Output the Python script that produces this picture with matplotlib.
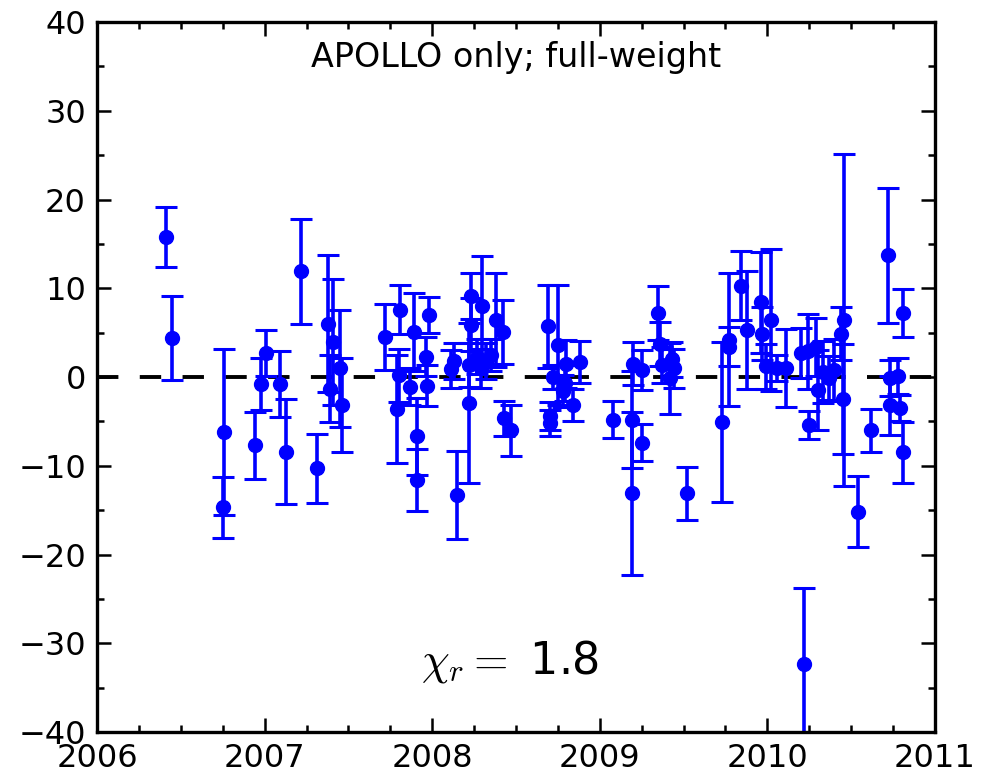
import matplotlib
matplotlib.use("Agg")
from matplotlib import pyplot as plt
from matplotlib.ticker import MultipleLocator

# epoch (decimal year), residual, 1-sigma error
epoch = [
    2006.41, 2006.45, 2006.75, 2006.76, 2006.94, 2006.98, 2007.01, 2007.09, 2007.13, 2007.22,
    2007.31, 2007.38, 2007.39, 2007.41, 2007.45, 2007.46, 2007.72, 2007.81, 2007.79, 2007.80,
    2007.89, 2007.87, 2007.91, 2007.91, 2007.98, 2007.96, 2007.97, 2008.11, 2008.13, 2008.15,
    2008.22, 2008.23, 2008.23, 2008.22, 2008.30, 2008.27, 2008.29, 2008.32, 2008.35, 2008.38,
    2008.42, 2008.43, 2008.47, 2008.69, 2008.75, 2008.72, 2008.70, 2008.70, 2008.80, 2008.79,
    2008.78, 2008.84, 2008.88, 2009.08, 2009.19, 2009.19, 2009.20, 2009.25, 2009.25, 2009.35,
    2009.36, 2009.37, 2009.42, 2009.43, 2009.44, 2009.52, 2009.73, 2009.77, 2009.77, 2009.84,
    2009.88, 2009.96, 2009.97, 2010.02, 2009.99, 2010.06, 2010.11, 2010.20, 2010.24, 2010.25,
    2010.22, 2010.29, 2010.30, 2010.33, 2010.37, 2010.40, 2010.44, 2010.46, 2010.45, 2010.54,
    2010.62, 2010.72, 2010.73, 2010.73, 2010.78, 2010.79, 2010.81, 2010.81,
]
resid = [
    15.8, 4.4, -14.7, -6.2, -7.7, -0.8, 2.7, -0.8, -8.4, 11.9,
    -10.3, 6.0, -1.3, 4.0, 1.0, -3.2, 4.5, 7.6, -3.6, 0.2,
    5.1, -1.1, -6.7, -11.6, 7.0, 2.3, -1.0, 0.9, 1.8, -13.3,
    -2.9, 9.1, 5.9, 1.35, 8.0, 2.3, 1.0, 1.8, 2.5, 6.4,
    5.1, -4.65, -6.0, 5.7, 3.6, 0.0, -4.4, -5.2, 1.5, -0.7,
    -1.6, -3.2, 1.7, -4.8, -13.1, -4.8, 1.5, 0.8, -7.4, 7.2,
    3.7, 1.35, -0.15, 2.0, 1.0, -13.1, -5.1, 4.2, 3.4, 10.3,
    5.3, 8.4, 4.9, 6.4, 1.2, 1.0, 1.0, 2.7, 2.9, -5.4,
    -32.3, 3.4, -1.5, 0.6, -0.1, 0.8, 4.9, 6.4, -2.5, -15.2,
    -6.0, 13.7, -0.1, -3.2, 0.1, -3.5, 7.2, -8.5,
]
err = [
    3.4, 4.7, 3.4, 9.4, 3.8, 2.9, 2.6, 3.7, 5.9, 5.9,
    3.9, 7.7, 3.8, 7.1, 6.6, 5.3, 3.7, 2.8, 6.1, 3.0,
    4.4, 2.1, 4.3, 3.5, 2.0, 2.2, 2.3, 2.1, 2.0, 5.0,
    9.0, 2.6, 3.0, 2.5, 5.6, 2.0, 2.2, 2.0, 1.8, 5.3,
    3.6, 2.0, 2.9, 4.7, 6.8, 1.3, 1.6, 1.5, 2.7, 2.0,
    1.8, 1.8, 2.4, 2.1, 9.2, 5.5, 2.4, 2.3, 2.1, 3.0,
    2.5, 2.0, 4.0, 2.0, 2.2, 3.0, 9.0, 7.5, 2.2, 3.9,
    6.6, 5.7, 3.0, 8.0, 2.5, 1.5, 4.4, 2.8, 4.2, 1.6,
    8.5, 3.3, 4.5, 3.5, 2.5, 3.5, 3.0, 18.7, 6.2, 4.0,
    2.4, 7.6, 2.0, 3.3, 2.0, 1.5, 2.7, 3.4,
]

title = "APOLLO only; full-weight"
chi_r = 1.8


def residual_figure():
    plt.rcParams["mathtext.fontset"] = "cm"
    fig = plt.figure(figsize=(9.81, 7.78), dpi=100)
    ax = fig.add_axes([0.0989, 0.0591, 0.8542, 0.9126])

    ax.axhline(0, color="black", lw=2.8, ls=(0, (5.5, 5.5)), zorder=1)
    ax.errorbar(epoch, resid, yerr=err, fmt="o", color="blue", ms=10,
                elinewidth=2.6, capsize=8, capthick=2.2, zorder=2)

    ax.set_xlim(2006, 2011)
    ax.set_ylim(-40, 40)
    ax.xaxis.set_major_locator(MultipleLocator(1))
    ax.xaxis.set_minor_locator(MultipleLocator(0.25))
    ax.yaxis.set_major_locator(MultipleLocator(10))
    ax.yaxis.set_minor_locator(MultipleLocator(5))
    ax.xaxis.set_major_formatter(matplotlib.ticker.FormatStrFormatter("%d"))

    ax.tick_params(which="both", direction="in", top=True, right=True, width=1.8)
    ax.tick_params(which="major", length=10, labelsize=23, pad=8)
    ax.tick_params(which="minor", length=5)
    for s in ax.spines.values():
        s.set_linewidth(2.4)

    ax.text(0.5, 0.95, title, transform=ax.transAxes, ha="center", va="center", fontsize=24)
    ax.text(0.493, 0.10, r"$\chi_r =$ " + f"{chi_r}", transform=ax.transAxes,
            ha="center", va="center", fontsize=32)

    fig.savefig("out.png", dpi=100)


def main():
    residual_figure()


if __name__ == "__main__":
    main()
